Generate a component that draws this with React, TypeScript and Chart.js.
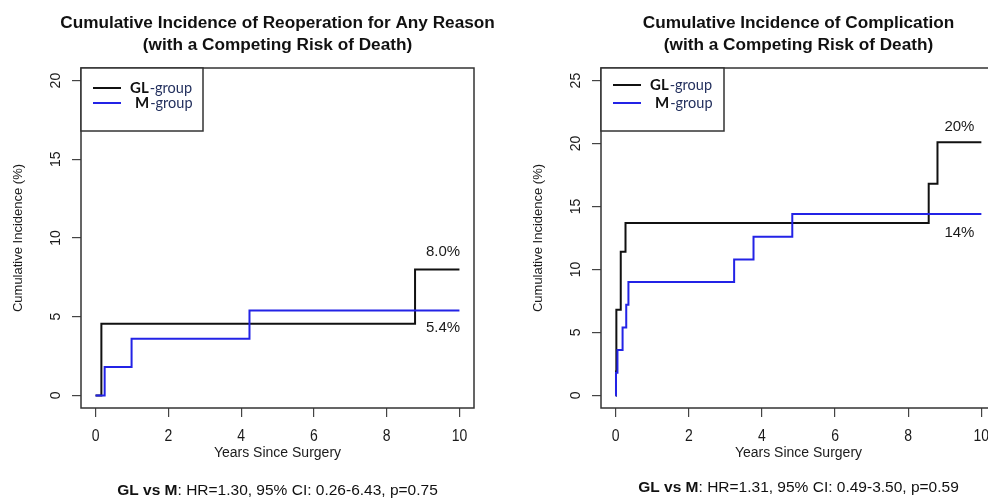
import React, { useEffect, useRef } from "react";
import { Chart, registerables } from "chart.js";

Chart.register(...registerables);

document.body.style.margin = "0";

// ---------- data ----------
const X_TICKS = [0, 2, 4, 6, 8, 10];
const REOP_Y_TICKS = [0, 5, 10, 15, 20];
const COMP_Y_TICKS = [0, 5, 10, 15, 20, 25];

// Reoperation for any reason
const REOP_GL_YEARS = [0, 0.16, 8.78, 10];
const REOP_GL_PCT = [0, 4.55, 8.0, 8.0];
const REOP_M_YEARS = [0, 0.25, 0.99, 4.23, 10];
const REOP_M_PCT = [0, 1.8, 3.6, 5.4, 5.4];

// Complication
const COMP_GL_YEARS = [0, 0.01, 0.02, 0.14, 0.27, 8.56, 8.8, 10];
const COMP_GL_PCT = [0, 1.9, 6.8, 11.4, 13.7, 16.8, 20.1, 20.1];
const COMP_M_YEARS = [0, 0.01, 0.05, 0.19, 0.29, 0.35, 3.24, 3.77, 4.83, 10];
const COMP_M_PCT = [0, 1.8, 3.6, 5.4, 7.2, 9.0, 10.8, 12.6, 14.4, 14.4];

const REOP_END_LABELS = ["8.0%", "5.4%"];
const COMP_END_LABELS = ["20%", "14%"];

const REOP_TITLE = ["Cumulative Incidence of Reoperation for Any Reason", "(with a Competing Risk of Death)"];
const COMP_TITLE = ["Cumulative Incidence of Complication", "(with a Competing Risk of Death)"];
const REOP_FOOTER = ": HR=1.30, 95% CI: 0.26-6.43, p=0.75";
const COMP_FOOTER = ": HR=1.31, 95% CI: 0.49-3.50, p=0.59";

const GL_COLOR = "#111111";
const M_COLOR = "#2323e6";
const FONT = "'Liberation Sans', Arial, sans-serif";

type PanelCfg = {
  canvasLeft: number;
  canvasWidth: number;
  areaLeft: number; // page px
  areaRight: number; // page px
  yMin: number;
  yMax: number;
  yTicks: number[];
  gl: { x: number[]; y: number[] };
  m: { x: number[]; y: number[] };
  endLabels: string[];
  endLabelPos: [number, number][]; // data coords
  title: string[];
  footer: string;
  footerY: number;
  legendW: number;
  legendLineY: [number, number];
};

const PANELS: PanelCfg[] = [
  {
    canvasLeft: 0,
    canvasWidth: 494,
    areaLeft: 81,
    areaRight: 474,
    yMin: -0.8,
    yMax: 20.8,
    yTicks: REOP_Y_TICKS,
    gl: { x: REOP_GL_YEARS, y: REOP_GL_PCT },
    m: { x: REOP_M_YEARS, y: REOP_M_PCT },
    endLabels: REOP_END_LABELS,
    endLabelPos: [
      [9.55, 9.1],
      [9.55, 4.3],
    ],
    title: REOP_TITLE,
    footer: REOP_FOOTER,
    footerY: 491,
    legendW: 122,
    legendLineY: [20, 35],
  },
  {
    canvasLeft: 494,
    canvasWidth: 520,
    areaLeft: 601,
    areaRight: 996,
    yMin: -1,
    yMax: 26,
    yTicks: COMP_Y_TICKS,
    gl: { x: COMP_GL_YEARS, y: COMP_GL_PCT },
    m: { x: COMP_M_YEARS, y: COMP_M_PCT },
    endLabels: COMP_END_LABELS,
    endLabelPos: [
      [9.4, 21.3],
      [9.4, 12.9],
    ],
    title: COMP_TITLE,
    footer: COMP_FOOTER,
    footerY: 488,
    legendW: 123,
    legendLineY: [17, 35],
  },
];

const AREA_TOP = 68;
const AREA_BOTTOM = 408;
const AXIS_SIZE = 10;

function toPoints(xs: number[], ys: number[]) {
  return xs.map((x, i) => ({ x, y: ys[i] }));
}

function Panel({ cfg }: { cfg: PanelCfg }) {
  const ref = useRef<HTMLCanvasElement | null>(null);

  useEffect(() => {
    const canvas = ref.current;
    if (!canvas) return;
    const leftPad = cfg.areaLeft - cfg.canvasLeft - AXIS_SIZE;
    const rightPad = cfg.canvasWidth - (cfg.areaRight - cfg.canvasLeft);

    const deco = {
      id: "deco",
      afterDraw(chart: any) {
        const ctx: CanvasRenderingContext2D = chart.ctx;
        const a = chart.chartArea;
        const xs = chart.scales.x;
        const ys = chart.scales.y;
        const cx = (a.left + a.right) / 2;
        ctx.save();

        // box
        ctx.strokeStyle = "#333";
        ctx.lineWidth = 1.5;
        ctx.strokeRect(a.left, a.top, a.right - a.left, a.bottom - a.top);

        ctx.fillStyle = "#1a1a1a";
        // y tick labels (rotated)
        ctx.font = `14px ${FONT}`;
        ctx.textAlign = "center";
        ctx.textBaseline = "middle";
        cfg.yTicks.forEach((v) => {
          const py = ys.getPixelForValue(v);
          ctx.save();
          ctx.translate(a.left - 25, py);
          ctx.rotate(-Math.PI / 2);
          ctx.fillText(String(v), 0, 0);
          ctx.restore();
        });
        // x tick labels
        ctx.font = `14px ${FONT}`;
        X_TICKS.forEach((v) => {
          ctx.save();
          ctx.translate(xs.getPixelForValue(v), 436);
          ctx.scale(1, 1.2);
          ctx.fillText(String(v), 0, 0);
          ctx.restore();
        });
        // x title
        ctx.font = `14px ${FONT}`;
        ctx.fillText("Years Since Surgery", cx, 453);
        // y title
        ctx.font = `13px ${FONT}`;
        ctx.save();
        ctx.translate(a.left - 63, (a.top + a.bottom) / 2);
        ctx.rotate(-Math.PI / 2);
        ctx.fillText("Cumulative Incidence (%)", 0, 0);
        ctx.restore();

        // titles
        ctx.fillStyle = "#111";
        ctx.font = `bold 17.2px ${FONT}`;
        ctx.fillText(cfg.title[0], cx, 23);
        ctx.fillText(cfg.title[1], cx, 45);

        // end labels
        ctx.fillStyle = "#1a1a1a";
        ctx.font = `15px ${FONT}`;
        cfg.endLabels.forEach((t, i) => {
          const [dx, dy] = cfg.endLabelPos[i];
          ctx.fillText(t, xs.getPixelForValue(dx), ys.getPixelForValue(dy));
        });

        // legend
        const lx = a.left;
        const ly = a.top;
        ctx.fillStyle = "#fff";
        ctx.fillRect(lx, ly, cfg.legendW, 63);
        ctx.strokeStyle = "#333";
        ctx.lineWidth = 1.5;
        ctx.strokeRect(lx, ly, cfg.legendW, 63);
        const rows: [string, string, number, number][] = [
          ["GL", GL_COLOR, cfg.legendLineY[0], 49],
          ["M", M_COLOR, cfg.legendLineY[1], 54],
        ];
        rows.forEach(([name, col, dy, tx]) => {
          ctx.strokeStyle = col;
          ctx.lineWidth = 2;
          ctx.beginPath();
          ctx.moveTo(lx + 12, ly + dy);
          ctx.lineTo(lx + 40, ly + dy);
          ctx.stroke();
          ctx.textAlign = "left";
          ctx.textBaseline = "middle";
          ctx.font = `bold 15px Lato, ${FONT}`;
          ctx.fillStyle = "#111";
          ctx.fillText(name, lx + tx, ly + dy);
          const w = ctx.measureText(name).width;
          ctx.font = `14.5px Lato, ${FONT}`;
          ctx.fillStyle = "#23305e";
          ctx.fillText("-group", lx + tx + w + 1, ly + dy);
        });

        // footer
        ctx.textBaseline = "middle";
        const fs = 15.5;
        ctx.font = `bold ${fs}px ${FONT}`;
        const boldTxt = "GL vs M";
        const bw = ctx.measureText(boldTxt).width;
        ctx.font = `${fs}px ${FONT}`;
        const rw = ctx.measureText(cfg.footer).width;
        const start = cx - (bw + rw) / 2;
        ctx.textAlign = "left";
        ctx.font = `bold ${fs}px ${FONT}`;
        ctx.fillStyle = "#111";
        ctx.fillText(boldTxt, start, cfg.footerY);
        ctx.font = `${fs}px ${FONT}`;
        ctx.fillText(cfg.footer, start + bw, cfg.footerY);

        ctx.restore();
      },
    };

    const chart = new Chart(canvas, {
      type: "line",
      data: {
        datasets: [
          {
            label: "GL-group",
            data: toPoints(cfg.gl.x, cfg.gl.y),
            borderColor: GL_COLOR,
            borderWidth: 2,
            pointRadius: 0,
            stepped: true,
            fill: false,
            order: 1,
          },
          {
            label: "M-group",
            data: toPoints(cfg.m.x, cfg.m.y),
            borderColor: M_COLOR,
            borderWidth: 2,
            pointRadius: 0,
            stepped: true,
            fill: false,
            order: 0,
          },
        ],
      },
      options: {
        responsive: false,
        animation: false,
        devicePixelRatio: 1,
        layout: {
          autoPadding: false,
          padding: {
            left: leftPad,
            right: rightPad,
            top: AREA_TOP,
            bottom: 500 - AREA_BOTTOM - AXIS_SIZE,
          },
        },
        plugins: {
          legend: { display: false },
          title: { display: false },
          tooltip: { enabled: false },
        },
        scales: {
          x: {
            type: "linear",
            min: -0.4,
            max: 10.4,
            afterBuildTicks: (s: any) => {
              s.ticks = X_TICKS.map((v) => ({ value: v }));
            },
            afterFit: (s: any) => {
              s.height = AXIS_SIZE;
              s.paddingLeft = 0;
              s.paddingRight = 0;
            },
            ticks: { display: false },
            border: { display: false },
            grid: {
              display: true,
              drawOnChartArea: false,
              drawTicks: true,
              tickLength: 9,
              color: "#444",
              lineWidth: 1.2,
            },
          },
          y: {
            type: "linear",
            min: cfg.yMin,
            max: cfg.yMax,
            afterBuildTicks: (s: any) => {
              s.ticks = cfg.yTicks.map((v) => ({ value: v }));
            },
            afterFit: (s: any) => {
              s.width = AXIS_SIZE;
              s.paddingTop = 0;
              s.paddingBottom = 0;
            },
            ticks: { display: false },
            border: { display: false },
            grid: {
              display: true,
              drawOnChartArea: false,
              drawTicks: true,
              tickLength: 9,
              color: "#444",
              lineWidth: 1.2,
            },
          },
        },
      },
      plugins: [deco],
    } as any);

    return () => chart.destroy();
  }, [cfg]);

  return (
    <canvas
      ref={ref}
      width={cfg.canvasWidth}
      height={500}
      style={{ position: "absolute", left: cfg.canvasLeft, top: 0, width: cfg.canvasWidth, height: 500 }}
    />
  );
}

export default function App() {
  return (
    <div style={{ position: "relative", width: 988, height: 500, overflow: "hidden", background: "#fff" }}>
      {PANELS.map((p, i) => (
        <Panel key={i} cfg={p} />
      ))}
    </div>
  );
}
